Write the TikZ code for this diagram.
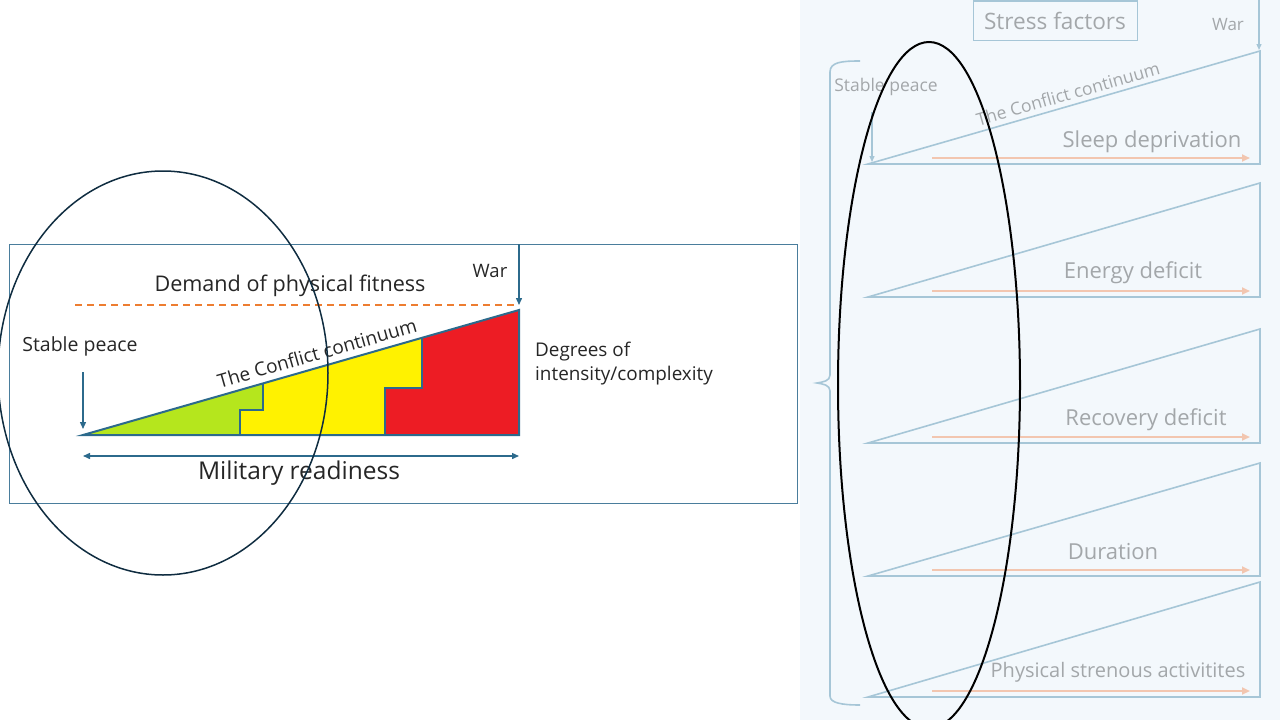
\documentclass[tikz,border=0pt]{standalone}
\usepackage{fontspec}
\setmainfont{Open Sans}
\usetikzlibrary{arrows.meta}
\definecolor{frameblue}{HTML}{4A7D9C}
\definecolor{triblue}{HTML}{2C6A8C}
\definecolor{dashor}{HTML}{ED7D31}
\definecolor{lime}{HTML}{B5E61D}
\definecolor{yel}{HTML}{FFF200}
\definecolor{redc}{HTML}{ED1C24}
\definecolor{navy}{HTML}{0F2C40}
\definecolor{bgblue}{HTML}{F3F8FC}
\definecolor{lineblue}{HTML}{A6C6D7}
\definecolor{txtgray}{HTML}{A3A7AA}
\definecolor{peach}{HTML}{F2C6B0}
\tikzset{
  fsz/.style={font=\fontsize{#1}{#1}\selectfont},
  lbl/.style={inner sep=0pt, text=black!85},
  glbl/.style={inner sep=0pt, text=txtgray},
  darr/.style={-{Triangle[length=7pt,width=6pt]}, line width=1.4pt, draw=triblue},
  larr/.style={-{Triangle[length=6pt,width=5pt]}, line width=1.3pt, draw=lineblue},
  parr/.style={-{Triangle[length=8pt,width=7pt]}, line width=2pt, draw=peach},
  tri/.style={draw=lineblue, line width=1.6pt, line join=miter},
}
\begin{document}
\begin{tikzpicture}[x=1pt,y=-1pt]
\useasboundingbox (0,0) rectangle (1280,720);
\begin{scope}
\clip (0,0) rectangle (1280,720);
% ---------- left panel ----------
\node[draw=frameblue, line width=1pt, minimum width=788pt, minimum height=259pt, inner sep=0pt, anchor=north west] (frame) at (9,244) {};
% coordinates of the wedge
\coordinate (A) at (83,435);
\coordinate (B) at (519,310);
\coordinate (C) at (519,435);
% colored regions
\fill[redc] (385,435) -- (385,388) -- (422,388) -- (422,337.8) -- (B) -- (C) -- cycle;
\fill[yel] (240,435) -- (240,410) -- (263,410) -- (263,383.4) -- (422,337.8) -- (422,388) -- (385,388) -- (385,435) -- cycle;
\fill[lime] (A) -- (263,383.4) -- (263,410) -- (240,410) -- (240,435) -- cycle;
\draw[triblue, line width=1.3pt] (240,435) -- (240,410) -- (263,410) -- (263,383.4);
\draw[triblue, line width=1.3pt] (385,435) -- (385,388) -- (422,388) -- (422,337.8);
\draw[triblue, line width=2pt, line join=miter] (A) -- (B) -- (C) -- cycle;
% dashed demand line
\coordinate (d1) at (75,305);
\coordinate (d2) at (516,305);
\draw[dashor, line width=1.5pt, dash pattern=on 7pt off 5pt] (d1) -- (d2);
\node[lbl, fsz=21.6] (demand) at (290,286) {Demand of physical fitness};
% War
\node[lbl, fsz=18.5] (war) at (490,271) {War};
\coordinate (w1) at (519,244);
\coordinate (w2) at (519,305);
\draw[darr] (w1) -- (w2);
% Stable peace
\node[lbl, fsz=19.5] (stable) at (80,346) {Stable peace};
\coordinate (s1) at (83,372);
\coordinate (s2) at (83,429);
\draw[darr] (s1) -- (s2);
% Conflict continuum
\node[lbl, fsz=19, rotate=16] (conflict) at (317,353) {The Conflict continuum};
% Degrees
\node[lbl, anchor=west, align=left, font=\fontsize{18.9}{24}\selectfont] (degrees) at (535,364) {Degrees of\\intensity/complexity};
% Military readiness
\coordinate (m1) at (83,456);
\coordinate (m2) at (519,456);
\draw[darr, {Triangle[length=7pt,width=6pt]}-{Triangle[length=7pt,width=6pt]}] (m1) -- (m2);
\node[lbl, fsz=24.5] (military) at (299,473) {Military readiness};
% ellipse
\draw[navy, line width=1.5pt] (163,373) ellipse [x radius=165, y radius=202];

% ---------- right panel ----------
\fill[bgblue] (800,0) rectangle (1280,720);
\node[draw=lineblue, line width=1pt, minimum width=164pt, minimum height=39pt, inner sep=0pt, glbl, fsz=22.6] (stress) at (1055,20.5) {Stress factors};
\node[glbl, fsz=17] (war2) at (1228,25) {War};
\coordinate (w3) at (1259,0);
\coordinate (w4) at (1259,50);
\draw[larr] (w3) -- (w4);
\node[glbl, fsz=17.5] (stable2) at (886,87) {Stable peace};
\coordinate (s3) at (872,112);
\coordinate (s4) at (872,162);
\draw[larr] (s3) -- (s4);
% brace
\draw[lineblue, line width=1.6pt] (860,61) .. controls (842,61) and (830,62) .. (830,72) -- (830,375)
  .. controls (830,381) and (823,382) .. (817,383) .. controls (823,384) and (830,385) .. (830,391)
  -- (830,696) .. controls (830,703) and (842,705) .. (860,705);
% wedges
\foreach \b/\t/\n in {164/51/1, 297/183/2, 443/329/3, 576/463/4, 697/582/5}{
  \coordinate (L\n) at (868,\b);
  \coordinate (T\n) at (1260,\t);
  \coordinate (R\n) at (1260,\b);
  \draw[tri] (L\n) -- (T\n) -- (R\n) -- cycle;
  \coordinate (p\n a) at (932,\b-6);
  \coordinate (p\n b) at (1250,\b-6);
  \draw[parr] (p\n a) -- (p\n b);
}
\node[glbl, fsz=17.5, rotate=16] (conflict2) at (1068,94) {The Conflict continuum};
\node[glbl, fsz=22] (sleep) at (1152,142) {Sleep deprivation};
\node[glbl, fsz=22] (energy) at (1133,273) {Energy deficit};
\node[glbl, fsz=22] (recovery) at (1146,420) {Recovery deficit};
\node[glbl, fsz=22] (duration) at (1113,552) {Duration};
\node[glbl, fsz=20] (physical) at (1118,672) {Physical strenous activitites};
% ellipse right
\draw[black, line width=2pt] (929,385) ellipse [x radius=91, y radius=343];
\end{scope}
\end{tikzpicture}
\end{document}
